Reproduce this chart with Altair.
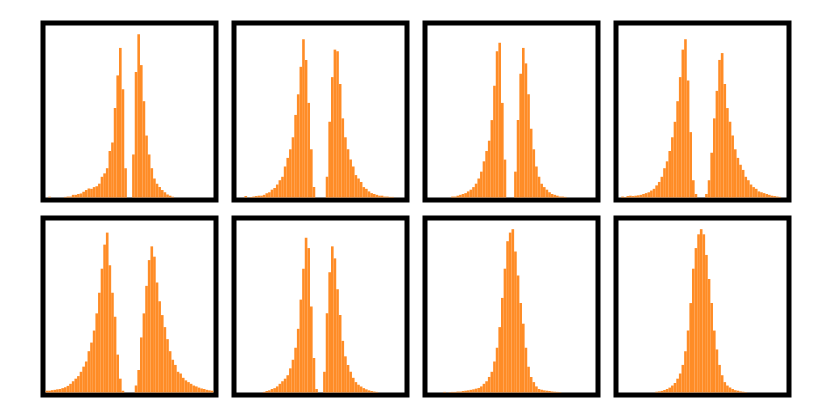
import altair as alt
import pandas as pd

N_BINS = 64

panel_1 = [0, 0.4, 0, 0, 0, 0, 0, 0.3, 0.5, 0.5, 1.5, 1.5, 2, 2.3, 3.3, 4.3,
           5.2, 5, 6, 6.5, 8, 12, 14, 17, 27, 32, 52, 71, 87, 63, 17, 0,
           0, 25, 73, 95, 77, 56, 36, 25, 17, 11, 8, 6, 4.3, 3, 1.7, 1,
           0.4, 0, 0, 0, 0, 0, 0, 0, 0, 0, 0, 0, 0, 0, 0, 0]
panel_2 = [0, 0, 0, 0.8, 0, 0.3, 0.5, 0.8, 1, 1, 1.5, 2.5, 3, 4.5, 5.5, 7.5,
           10, 12, 18, 23, 28, 35, 48, 60, 76, 92, 80, 55, 28, 6, 0, 0,
           0, 0, 12, 44, 70, 86, 85, 66, 46, 35, 28, 22, 18, 13, 11, 9,
           6, 5, 3.5, 2.5, 2, 1.5, 1, 1, 0.5, 0.5, 0.3, 0.3, 0, 0, 0, 0]
panel_3 = [0, 0, 0, 0, 0, 0, 0, 0, 0, 0.5, 0.5, 1, 1.5, 2, 2.5, 3.5,
           4.5, 6, 8, 11, 15, 21, 27, 33, 45, 65, 85, 90, 55, 22, 0, 0,
           0, 15, 45, 72, 87, 78, 60, 40, 28, 18, 12, 8, 6, 4.5, 3, 2,
           1.5, 1, 0.5, 0.5, 0.3, 0, 0, 0, 0, 0, 0, 0, 0, 0, 0, 0]
panel_4 = [0, 0.5, 0.3, 0.8, 1, 0.8, 1, 1.2, 1.5, 2, 2.5, 3, 4, 5, 7, 9,
           12, 17, 21, 27, 35, 44, 56, 70, 86, 92, 68, 38, 10, 2, 0, 0,
           0, 2, 10, 26, 46, 62, 80, 84, 66, 52, 44, 36, 28, 23, 19, 16,
           12, 10, 7.5, 6, 5, 3.5, 3, 2.5, 2, 1.5, 1, 0.8, 0.5, 0.3, 0, 0]
panel_5 = [1, 1, 1.3, 1.5, 1.8, 2, 2.5, 3, 3.8, 5, 6.5, 8, 9.5, 12, 15, 18,
           24, 29, 36, 46, 58, 72, 86, 93, 74, 58, 44, 22, 8, 1, 0, 0,
           0, 0, 4, 13, 32, 46, 62, 77, 85, 79, 64, 53, 45, 38, 31, 24,
           19, 16, 12, 11, 8.5, 7, 6, 5, 4, 3.5, 2.8, 2.3, 2, 1.5, 1.2, 1]
panel_6 = [0, 0, 0, 0, 0, 0, 0, 0, 0, 0, 0.3, 0.8, 1.2, 2, 2.5, 3.5,
           5, 6.5, 8, 10, 14, 19, 26, 37, 54, 72, 90, 84, 50, 20, 2, 0,
           0, 12, 46, 70, 85, 78, 60, 45, 30, 21, 16, 12, 8.5, 6, 4.5, 3.5,
           2.5, 1.8, 1.2, 0.8, 0.5, 0.3, 0, 0, 0, 0, 0, 0, 0, 0, 0, 0]
panel_7 = [0, 0, 0, 0, 0, 0, 0.3, 0, 0.2, 0.3, 0.3, 0.5, 0.5, 0.8, 1, 1.2,
           1.5, 1.8, 2.2, 2.6, 3.5, 5, 6.5, 9, 12, 18, 26, 38, 55, 72, 88, 93,
           95, 82, 68, 52, 40, 26, 15, 9, 6, 3.5, 2, 1.5, 1.2, 1, 0.8, 0.6,
           0.4, 0.3, 0.2, 0, 0, 0, 0, 0, 0, 0, 0, 0, 0, 0, 0, 0]
panel_8 = [0, 0, 0, 0, 0, 0, 0, 0, 0, 0, 0, 0, 0, 0, 0.4, 0.6,
           0.9, 1.4, 2, 2.8, 4, 5.5, 8, 11, 16, 24, 36, 52, 72, 84, 92, 95,
           92, 80, 66, 52, 36, 25, 16, 10, 6, 4, 2.8, 2, 1.3, 1, 0.6, 0.4,
           0.2, 0, 0, 0, 0, 0, 0, 0, 0, 0, 0, 0, 0, 0, 0, 0]

panels = [panel_1, panel_2, panel_3, panel_4, panel_5, panel_6, panel_7, panel_8]

PANEL_W = 173
PANEL_H = 177


def make_panel(heights):
    df = pd.DataFrame({
        "x0": list(range(len(heights))),
        "x1": [i + 1 for i in range(len(heights))],
        "h": heights,
    })
    return alt.Chart(df).mark_bar(color="#ff7f0e", opacity=0.9).encode(
        x=alt.X("x0:Q", scale=alt.Scale(domain=[-1.0, N_BINS + 1.0], nice=False, zero=False), axis=None),
        x2="x1:Q",
        y=alt.Y("h:Q", scale=alt.Scale(domain=[-1.5, 101.5], nice=False, zero=False), axis=None),
        y2=alt.datum(0),
    ).properties(width=PANEL_W, height=PANEL_H)


row1 = alt.hconcat(*[make_panel(p) for p in panels[:4]], spacing=12)
row2 = alt.hconcat(*[make_panel(p) for p in panels[4:]], spacing=12)

chart = alt.vconcat(row1, row2, spacing=12).properties(
    padding={"left": 32, "top": 12, "right": 5, "bottom": 5}
).configure_view(
    stroke="black", strokeWidth=5
)

chart.save("out.html", embed_options={"renderer": "svg", "actions": False})
